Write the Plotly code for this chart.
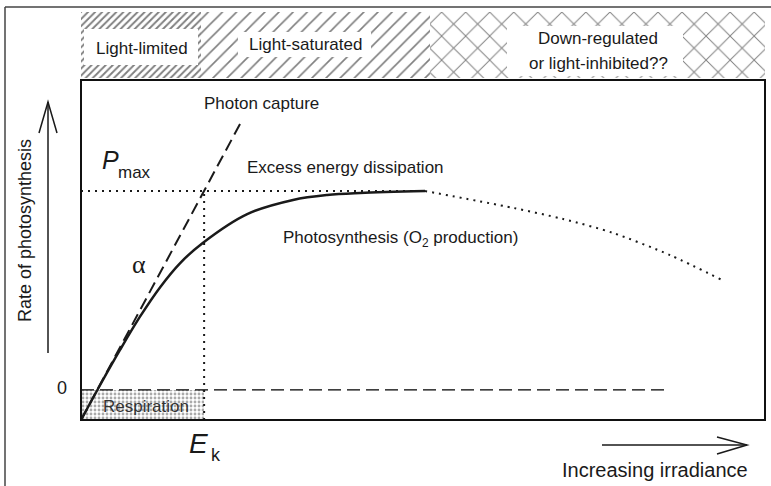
import plotly.graph_objects as go

# Photosynthesis-irradiance (P-E) response; irradiance E and rate P in relative units (Pmax = 1)
E_curve = [0, 0.28, 0.57, 0.86, 1.16, 1.45, 1.78, 2.43, 3.10, 3.60, 4.08, 5.03]
P_curve = [-0.151, 0.025, 0.201, 0.367, 0.518, 0.638, 0.739, 0.884, 0.955, 0.980, 0.990, 1.0]

# possible decline at high irradiance (photoinhibition)
E_decline = [5.03, 6.32, 7.05, 7.78, 8.61, 9.37]
P_decline = [1.0, 0.915, 0.859, 0.789, 0.678, 0.553]

# initial slope alpha (photon capture)
E_capture = [0, 2.33]
P_capture = [-0.151, 1.34]

P_MAX = 1.0
E_K = 1.8
RESPIRATION = 0.151
E_ZERO_END = 8.61
E_PMAX_END = 5.03

# irradiance zones across the top
zone_edges = [0, 1.75, 5.1, 10]
zone_shapes = ["/", "/", "x"]
zone_sizes = [5, 10, 17]
zone_solidity = [0.38, 0.16, 0.11]

X_RANGE = [0, 10]
Y_RANGE = [-RESPIRATION, 1.558]

# page geometry (pixels)
W, H = 771, 486
ML, MR, MT, MB = 81, 6, 12, 66


def fx(px):
    return (px - ML) / (W - ML - MR)


def fy(py):
    return (H - MB - py) / (H - MT - MB)


FONT = "Liberation Sans, Arial, Helvetica, sans-serif"
INK = "#1a1a1a"

fig = go.Figure()

# zone bands
centers = [(a + b) / 2 for a, b in zip(zone_edges[:-1], zone_edges[1:])]
widths = [b - a for a, b in zip(zone_edges[:-1], zone_edges[1:])]
fig.add_trace(go.Bar(
    x=centers, y=[1] * len(centers), width=widths, base=0,
    yaxis="y2",
    marker=dict(color="white", line=dict(width=0),
                pattern=dict(shape=zone_shapes, size=zone_sizes,
                             solidity=zone_solidity, fgcolor="#000", bgcolor="white")),
    hoverinfo="skip", showlegend=False,
))

# respiration box (stippled)
fig.add_trace(go.Bar(
    x=[E_K / 2], y=[RESPIRATION], width=[E_K], base=[-RESPIRATION],
    marker=dict(color="white", line=dict(width=0),
                pattern=dict(shape=".", size=4, solidity=0.4,
                             fgcolor="#555", bgcolor="white")),
    hoverinfo="skip", showlegend=False,
))

# zero line (dashed)
fig.add_trace(go.Scatter(
    x=[0, E_ZERO_END], y=[0, 0], mode="lines",
    line=dict(color="#000", width=1.3, dash="13px,6px"),
    hoverinfo="skip", showlegend=False,
))

# Pmax level (dotted)
fig.add_trace(go.Scatter(
    x=[0, E_PMAX_END], y=[P_MAX, P_MAX], mode="lines",
    line=dict(color=INK, width=2, dash="2px,5px"),
    hoverinfo="skip", showlegend=False,
))

# Ek (dotted vertical)
fig.add_trace(go.Scatter(
    x=[E_K, E_K], y=[-RESPIRATION, P_MAX], mode="lines",
    line=dict(color=INK, width=2, dash="2px,5px"),
    hoverinfo="skip", showlegend=False,
))

# photon capture (dashed)
fig.add_trace(go.Scatter(
    x=E_capture, y=P_capture, mode="lines",
    line=dict(color=INK, width=2, dash="12px,6px"),
    hoverinfo="skip", showlegend=False,
))

# photosynthesis curve
fig.add_trace(go.Scatter(
    x=E_curve, y=P_curve, mode="lines",
    line=dict(color=INK, width=2.5, shape="spline", smoothing=1.0),
    hoverinfo="skip", showlegend=False,
))

# decline (dotted)
fig.add_trace(go.Scatter(
    x=E_decline, y=P_decline, mode="lines",
    line=dict(color=INK, width=2, dash="2px,5px", shape="spline", smoothing=0.8),
    hoverinfo="skip", showlegend=False,
))

shapes = []
# outer frame (top and left)
shapes.append(dict(type="line", xref="paper", yref="paper",
                   x0=fx(5), x1=fx(771), y0=fy(7), y1=fy(7),
                   line=dict(color="#444", width=1.5)))
shapes.append(dict(type="line", xref="paper", yref="paper",
                   x0=fx(5), x1=fx(5), y0=fy(7), y1=fy(486),
                   line=dict(color="#444", width=1.5)))
# plot box
shapes.append(dict(type="rect", xref="paper", yref="paper",
                   x0=0, x1=1, y0=0, y1=fy(80),
                   line=dict(color="#111", width=2), layer="above"))
# white label backgrounds in the zone band
for x0, x1, y0, y1 in [(84, 198, 29, 65), (238, 371, 32, 57), (507, 683, 26, 76)]:
    shapes.append(dict(type="rect", xref="paper", yref="paper",
                       x0=fx(x0), x1=fx(x1), y0=fy(y1), y1=fy(y0),
                       fillcolor="white", line=dict(width=0), layer="above"))
# axis arrows
shapes.append(dict(type="line", xref="paper", yref="paper",
                   x0=fx(48), x1=fx(48), y0=fy(353), y1=fy(102),
                   line=dict(color=INK, width=1.5)))
shapes.append(dict(type="path", xref="paper", yref="paper",
                   path=f"M {fx(39)},{fy(133)} L {fx(48)},{fy(102)} L {fx(57)},{fy(133)}",
                   line=dict(color=INK, width=1.5)))
shapes.append(dict(type="line", xref="paper", yref="paper",
                   x0=fx(602), x1=fx(747), y0=fy(445), y1=fy(445),
                   line=dict(color=INK, width=1.5)))
shapes.append(dict(type="path", xref="paper", yref="paper",
                   path=f"M {fx(717)},{fy(437)} L {fx(747)},{fy(445)} L {fx(717)},{fy(454)}",
                   line=dict(color=INK, width=1.5)))


def label(text, px, py, size=17, family=FONT, color=INK, angle=0, xanchor="center"):
    return dict(text=text, x=fx(px), y=fy(py), xref="paper", yref="paper",
                showarrow=False, xanchor=xanchor, yanchor="middle", textangle=angle,
                font=dict(family=family, size=size, color=color))


annotations = [
    label("Light-limited", 142, 48),
    label("Light-saturated", 305, 44),
    label("Down-regulated", 598, 39),
    label("or light-inhibited??", 598, 63),
    label("Photon capture", 261, 103),
    label("<i>P</i>", 110, 160, size=25),
    label("max", 134, 172, size=17),
    label("Excess energy dissipation", 345, 167),
    label("Photosynthesis (O<sub>2</sub> production)", 400, 239),
    label("α", 139, 264, size=26, family="Liberation Serif, Times New Roman, serif"),
    label("0", 62, 388, size=18),
    label("Respiration", 146, 406, size=17, color="#333"),
    label("<i>E</i>", 198, 443, size=28),
    label("k", 216, 455, size=18),
    label("Increasing irradiance", 655, 470, size=20),
    label("Rate of photosynthesis", 25, 231, size=18, angle=-90),
]

fig.update_layout(
    width=W, height=H,
    margin=dict(l=ML, r=MR, t=MT, b=MB),
    paper_bgcolor="white", plot_bgcolor="white",
    barmode="overlay", bargap=0,
    showlegend=False,
    xaxis=dict(range=X_RANGE, visible=False, fixedrange=True),
    yaxis=dict(range=Y_RANGE, domain=[0, fy(80)], visible=False, fixedrange=True),
    yaxis2=dict(range=[0, 1], domain=[fy(78), fy(12)], anchor="x",
                visible=False, fixedrange=True),
    shapes=shapes,
    annotations=annotations,
    font=dict(family=FONT, color=INK),
)

fig.write_html("out.html", config=dict(displayModeBar=False, staticPlot=True))
